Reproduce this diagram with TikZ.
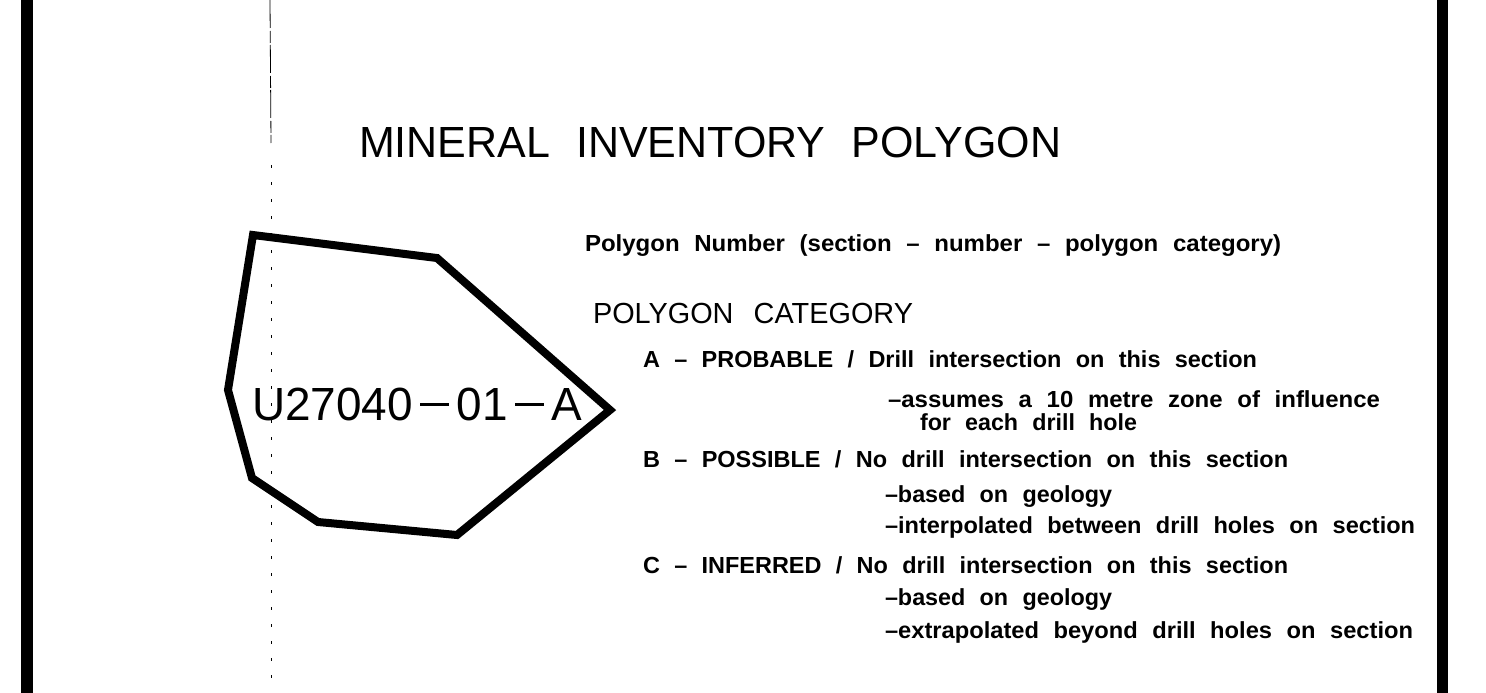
\documentclass[tikz,border=0pt]{standalone}
\usepackage{fontspec}
\usepackage{graphicx}
\setmainfont{Liberation Sans}
\newfontfamily\titlefont{Liberation Sans}[WordSpace=2.4]
\newfontfamily\bodyfont{Liberation Sans}[WordSpace=2.2]
\newcommand{\fittext}[3]{\resizebox{#1pt}{#2pt}{\raisebox{0pt}[\fontcharht\font`X][0pt]{#3}}}
\newcommand{\ldash}{\rule[0.3em]{0.62em}{0.07em}}
\begin{document}
\begin{tikzpicture}[x=1pt,y=-1pt,
  txt/.style={inner sep=0pt, outer sep=0pt, anchor=base west},
  polyline/.style={line width=8pt, line join=miter},
  bar/.style={fill=black, draw=none},
  scanline/.style={line width=0.8pt}]
\useasboundingbox[fill=white] (0,0) rectangle (1486,693);
% frame bars
\fill[bar] (21,0) rectangle (33,693);
\fill[bar] (1437,0) rectangle (1448,693);
% faint scan line
\coordinate (s0) at (270,0);
\coordinate (s1) at (271,143);
\coordinate (s2) at (271,165);
\coordinate (s3) at (271,690);
\draw[scanline, dash pattern=on 28pt off 3pt on 12pt off 2pt] (s0) -- (s1);
\draw[scanline, dash pattern=on 3pt off 14pt] (s2) -- (s3);
% polygon
\coordinate (p1) at (253,235);
\coordinate (p2) at (437,258);
\coordinate (p3) at (610,410);
\coordinate (p4) at (457,535);
\coordinate (p5) at (318,522);
\coordinate (p6) at (252,478);
\coordinate (p7) at (228,390);
\draw[polyline] (p1) -- (p2) -- (p3) -- (p4) -- (p5) -- (p6) -- (p7) -- cycle;
% texts
\node[txt] (title) at (359,157) {\titlefont\fittext{702}{30}{MINERAL INVENTORY POLYGON}};
\node[txt] (label) at (252,420) {\titlefont\fittext{330}{32}{U27040\,\ldash\,01\,\ldash\,A}};
\node[txt] (pnum) at (585,251) {\bodyfont\bfseries\fittext{696}{16}{Polygon Number (section – number – polygon category)}};
\node[txt] (cat) at (593,323) {\titlefont\fittext{320}{20}{POLYGON\hspace{0.7em}CATEGORY}};
\node[txt] (a1) at (643,367) {\bodyfont\bfseries\fittext{614}{16}{A – PROBABLE / Drill intersection on this section}};
\node[txt] (a2) at (888,407) {\bodyfont\bfseries\fittext{492}{16}{–assumes a 10 metre zone of influence}};
\node[txt] (a3) at (920,430) {\bodyfont\bfseries\fittext{217}{16}{for each drill hole}};
\node[txt] (b1) at (643,467) {\bodyfont\bfseries\fittext{645}{16}{B – POSSIBLE / No drill intersection on this section}};
\node[txt] (b2) at (885,502) {\bodyfont\bfseries\fittext{227}{16}{–based on geology}};
\node[txt] (b3) at (885,533) {\bodyfont\bfseries\fittext{530}{16}{–interpolated between drill holes on section}};
\node[txt] (c1) at (643,573) {\bodyfont\bfseries\fittext{645}{16}{C – INFERRED / No drill intersection on this section}};
\node[txt] (c2) at (885,605) {\bodyfont\bfseries\fittext{227}{16}{–based on geology}};
\node[txt] (c3) at (885,638) {\bodyfont\bfseries\fittext{528}{16}{–extrapolated beyond drill holes on section}};
\end{tikzpicture}
\end{document}
